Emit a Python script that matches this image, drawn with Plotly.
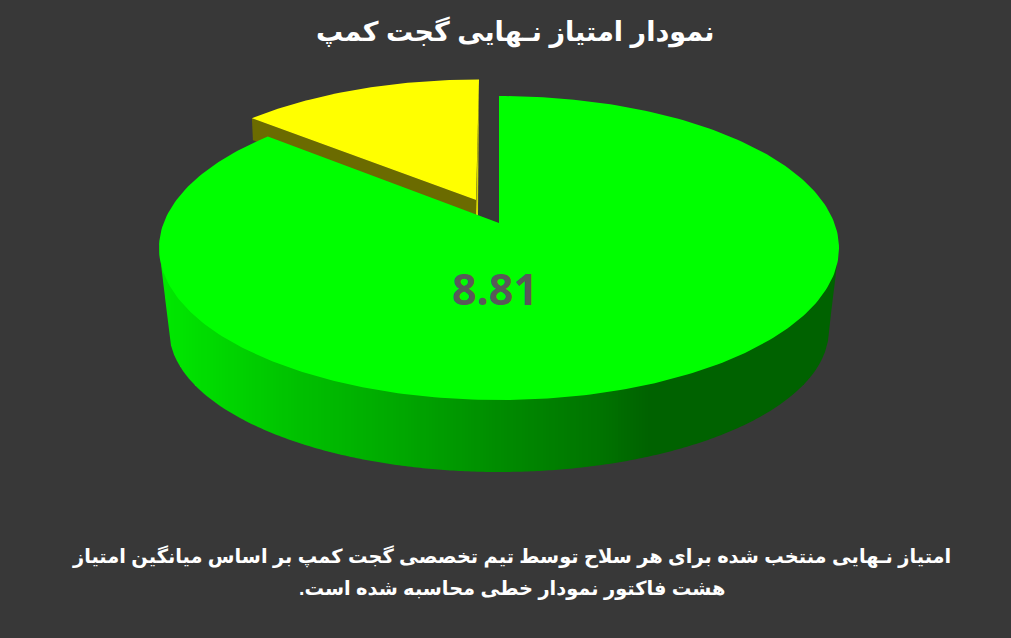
import numpy as np
import plotly.graph_objects as go

# scores
scores = [8.81, 1.19]
max_score = 10

title_text = "نمودار امتیاز نـهایی گجت کمپ"
note_lines = [
    "امتیاز نـهایی منتخب شده برای هر سلاح توسط تیم تخصصی گجت کمپ بر اساس میانگین امتیاز",
    "هشت فاکتور نمودار خطی محاسبه شده است.\u200f",
]

BG = "#383838"
GREEN = "#00ff00"
YELLOW = "#ffff00"
FONT = "Liberation Sans, Arial, DejaVu Sans"

# shade of the side wall depends on screen x
shade_x = [165, 300, 400, 500, 600, 650, 840]
shade_g = [232, 192, 168, 140, 116, 98, 98]


def rim(theta, cx, cy, rx, ry):
    return cx + rx * np.sin(theta), cy - ry * np.cos(theta)


def poly(x, y, color):
    return go.Scatter(x=list(x), y=list(y), mode="lines", fill="toself", fillcolor=color,
                      line=dict(color=color, width=0), hoverinfo="skip", showlegend=False)


def lower_edge(x):
    # front of the top rim and of the bottom rim at screen x
    top = 248 + 152 * np.sqrt(np.clip(1 - ((x - 499) / 340) ** 2, 0, 1))
    d = np.abs(x - 499)
    if d < 330:
        bottom = 330 + 142 * np.sqrt(1 - (d / 330) ** 2)
    else:
        bottom = 248 + (340 - d) * 82 / 10
    return top, bottom


gap = 2 * np.pi * scores[1] / max_score

fig = go.Figure()

# yellow slice, pulled out up and left
t = np.linspace(-gap, 0, 60)
yx, yy = rim(t, 479, 225, 334, 145.5)
wall_x = [yx[0], 476, 477.5, yx[0] + 1]
wall_y = [yy[0], 200, 215, yy[0] + 22]
fig.add_trace(poly(wall_x, wall_y, "#6b6b00"))
fig.add_trace(poly([yx[-1], 476, 476, 478], [yy[-1], 200, 215, 215], "#d6d600"))
fig.add_trace(poly(np.r_[476, yx], np.r_[200, yy], YELLOW))

# green side wall, vertical strips so the edges stay on whole pixels
strips = np.arange(159, 840, 3)
for a, b in zip(strips[:-1], strips[1:]):
    ta, ba = lower_edge(a)
    tb, bb = lower_edge(b)
    g = int(np.interp((a + b) / 2, shade_x, shade_g))
    fig.add_trace(poly([a, b, b, a], [ta - 2, tb - 2, bb, ba], f"rgb(0,{g},0)"))

# green top
t = np.linspace(0, 2 * np.pi - gap, 300)
gx, gy = rim(t, 499, 248, 340, 152)
fig.add_trace(poly(np.r_[499, gx], np.r_[223, gy], GREEN))

fig.add_annotation(x=495, y=288, text=f"{scores[0]:.2f}", showarrow=False,
                   font=dict(family="Open Sans", size=43, color="#595959", weight="bold"))
fig.add_annotation(x=515, y=32, text=title_text, showarrow=False,
                   font=dict(family=FONT, size=27, color="white", weight="bold"))
fig.add_annotation(x=511, y=556, text=note_lines[0], showarrow=False,
                   font=dict(family=FONT, size=19.4, color="white", weight="bold"))
fig.add_annotation(x=512, y=588, text=note_lines[1], showarrow=False,
                   font=dict(family=FONT, size=19.4, color="white", weight="bold"))

fig.update_layout(width=1011, height=638, margin=dict(l=0, r=0, t=0, b=0),
                  paper_bgcolor=BG, plot_bgcolor=BG, showlegend=False,
                  xaxis=dict(range=[0, 1011], visible=False),
                  yaxis=dict(range=[638, 0], visible=False))

fig.write_html("out.html", config=dict(displayModeBar=False),
               post_script="document.body.style.margin='0';document.body.style.background='#383838';")
